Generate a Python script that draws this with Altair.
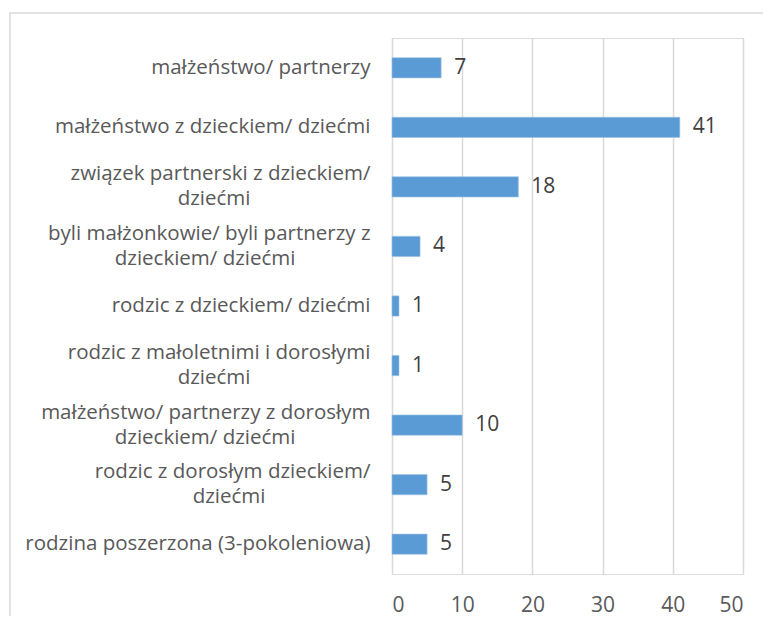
import altair as alt
import pandas as pd

categories = [
    "małżeństwo/ partnerzy",
    "małżeństwo z dzieckiem/ dziećmi",
    "związek partnerski z dzieckiem/\ndziećmi",
    "byli małżonkowie/ byli partnerzy z\ndzieckiem/ dziećmi",
    "rodzic z dzieckiem/ dziećmi",
    "rodzic z małoletnimi i dorosłymi\ndziećmi",
    "małżeństwo/ partnerzy z dorosłym\ndzieckiem/ dziećmi",
    "rodzic z dorosłym dzieckiem/\ndziećmi",
    "rodzina poszerzona (3-pokoleniowa)",
]
values = [7, 41, 18, 4, 1, 1, 10, 5, 5]
x_ticks = [0, 10, 20, 30, 40, 50]

df = pd.DataFrame({"kategoria": categories, "liczba": values})

FONT = "Open Sans"
GRAY = "#d9d9d9"
PADCH = "\u2800"  # blank filler glyph (not trimmed like ordinary spaces)

# multi-line labels: second line centred under the first (as in Excel)
L = "split(datum.label, '\\n')"
label_expr = (
    f"length({L}) > 1 ? "
    f"[{L}[0], pad({L}[1], length({L}[1]) + round((length({L}[0]) - length({L}[1])) * 0.33), '{PADCH}', 'right')]"
    f" : datum.label"
)

y_enc = alt.Y(
    "kategoria:N",
    sort=categories,
    title=None,
    scale=alt.Scale(paddingInner=0.66, paddingOuter=0.33),
    axis=alt.Axis(
        labelExpr=label_expr,
        labelAlign="right",
        labelBaseline="middle",
        labelPadding=22,
        labelLimit=0,
        labelFont=FONT,
        labelFontSize=20.5,
        labelLineHeight=25,
        labelColor="#595959",
        labelOffset={
            "condition": {"test": "indexof(datum.value, '\\n') >= 0", "value": -12.5},
            "value": 0,
        },
        ticks=False,
        domain=False,
        grid=False,
    ),
)

x_enc = alt.X(
    "liczba:Q",
    title=None,
    scale=alt.Scale(domain=[0, 50], nice=False),
    axis=alt.Axis(
        values=x_ticks,
        grid=True,
        gridColor=GRAY,
        gridWidth=1.5,
        ticks=False,
        domain=False,
        labelFont=FONT,
        labelFontSize=21,
        labelColor="#595959",
        labelPadding=20,
    ),
)

bars = alt.Chart(df).mark_bar(color="#5b9bd5", stroke="#9dc3e6", strokeWidth=0.6).encode(
    x=x_enc, y=y_enc
)

labels = alt.Chart(df).mark_text(
    align="left", baseline="middle", dx=13, font=FONT, fontSize=21, color="#404040"
).encode(x="liczba:Q", y=alt.Y("kategoria:N", sort=categories), text="liczba:Q")

border = alt.Chart(alt.Data(values=[{"a": 1}])).mark_rect(
    fill="transparent", stroke=GRAY, strokeWidth=1.5
).encode(
    x=alt.value(-382), y=alt.value(-25), x2=alt.value(2000), y2=alt.value(2000)
)

chart = (
    alt.layer(border, bars, labels)
    .properties(
        width=351,
        height=536,
        autosize=alt.AutoSizeParams(type="none"),
        padding={"left": 384, "top": 30, "right": 20, "bottom": 42},
    )
    .configure_view(stroke=None)
    .configure(background="white")
)

chart.save("out.html", embed_options={"renderer": "svg", "actions": False})
